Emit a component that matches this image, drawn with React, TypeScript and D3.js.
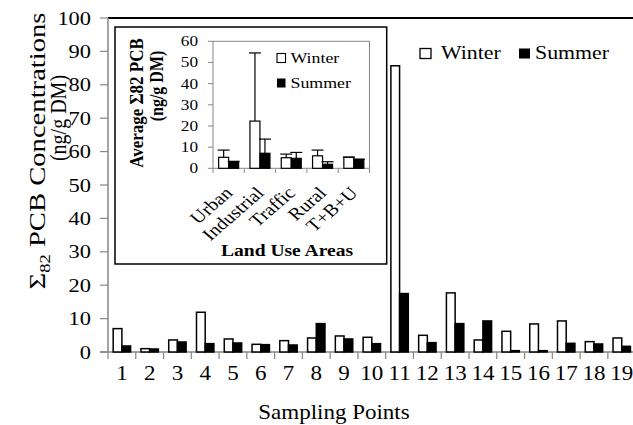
import React from "react";
import * as d3 from "d3";

// main chart: sigma82 PCB per sampling point
const points = d3.range(1, 20).map(String);
const winter = [7.0, 1.0, 3.6, 11.9, 3.9, 2.3, 3.4, 4.2, 4.8, 4.4, 85.7, 5.0, 17.7, 3.6, 6.2, 8.4, 9.3, 3.1, 4.2];
const summer = [1.8, 0.9, 3.0, 2.5, 2.7, 2.2, 2.1, 8.5, 3.9, 2.5, 17.5, 2.8, 8.5, 9.3, 0.4, 0.4, 2.6, 2.4, 1.7];
const mainTicks = d3.range(0, 101, 10);

// inset: averages by land use
const areas = ["Urban", "Industrial", "Traffic", "Rural", "T+B+U"];
const areaWinter = [5.2, 22.3, 5.0, 5.9, 5.2];
const areaSummer = [3.1, 7.1, 4.7, 1.9, 4.2];
const areaWinterSd = [3.4, 32.2, 1.7, 2.7, 0.1];
const areaSummerSd = [0.2, 6.7, 2.8, 1.2, 0.1];
const insetTicks = d3.range(0, 61, 10);

const FONT = "'Liberation Serif', 'Times New Roman', serif";
const AXIS = "#868686";
const SX = 1.15; // picture is a bit wider than tall

const T = ({ x, y, rot = 0, size, anchor = "start", bold = false, len, children }: any) => (
  <text
    transform={`translate(${x},${y}) scale(${SX},1)${rot ? ` rotate(${rot})` : ""}`}
    fontSize={size}
    textAnchor={anchor}
    fontWeight={bold ? "bold" : "normal"}
    fontFamily={FONT}
    fill="#000"
    textLength={len}
    lengthAdjust={len ? "spacingAndGlyphs" : undefined}
  >
    {children}
  </text>
);

export default function App() {
  const x = d3.scaleBand().domain(points).range([108, 108 + 19 * 27.77]);
  const y = d3.scaleLinear().domain([0, 100]).range([352, 18]);
  const bw = 8.7;

  const ix = d3.scaleBand().domain(areas).range([213, 369.5]);
  const iy = d3.scaleLinear().domain([0, 60]).range([168.3, 41.3]);
  const ibw = 10;

  return (
    <svg width={633} height={425} style={{ position: "absolute", left: 0, top: 0, background: "#fff" }}>
      {/* main axes */}
      <line x1={108} x2={633} y1={18} y2={18} stroke="#000" strokeWidth={2} />
      <line x1={108} x2={108} y1={18} y2={352} stroke={AXIS} strokeWidth={1.5} />
      <line x1={100} x2={633} y1={y(0)} y2={y(0)} stroke={AXIS} strokeWidth={1.5} />
      {mainTicks.map((t) => (
        <g key={t}>
          <line x1={100} x2={108} y1={y(t)} y2={y(t)} stroke={AXIS} strokeWidth={1.2} />
          <T x={91} y={y(t) + 6.5} size={19.5} anchor="end">{t}</T>
        </g>
      ))}
      {d3.range(0, 20).map((i) => (
        <line key={i} x1={108 + i * x.bandwidth()} x2={108 + i * x.bandwidth()} y1={352} y2={359} stroke={AXIS} strokeWidth={1.2} />
      ))}
      {points.map((p, i) => {
        const c = x(p)! + x.bandwidth() / 2;
        return (
          <g key={p}>
            <rect x={c - bw} y={y(winter[i])} width={bw} height={y(0) - y(winter[i])} fill="#fff" stroke="#000" strokeWidth={1.5} />
            <rect x={c} y={y(summer[i])} width={bw} height={y(0) - y(summer[i])} fill="#000" stroke="#000" strokeWidth={1.5} />
            <T x={c} y={379.5} size={20} anchor="middle">{p}</T>
          </g>
        );
      })}

      {/* main titles */}
      <T x={334} y={419} size={20} anchor="middle">Sampling Points</T>
      <T x={45} y={151} size={20} rot={-90} anchor="middle" len={277}>
        Σ<tspan fontSize={13} dy={4}>82</tspan><tspan dy={-4}> PCB Concentrations</tspan>
      </T>
      <T x={66} y={118} size={20} rot={-90} anchor="middle">(ng/g DM)</T>

      {/* main legend */}
      <rect x={420} y={48.5} width={11} height={10} fill="#fff" stroke="#000" strokeWidth={1.3} />
      <T x={441} y={59} size={19}>Winter</T>
      <rect x={519} y={48.5} width={11} height={10} fill="#000" />
      <T x={535} y={59} size={19}>Summer</T>

      {/* inset */}
      <rect x={115} y={27} width={271.7} height={237} fill="#fff" stroke="#000" strokeWidth={1.5} />
      <rect x={213} y={41.3} width={156.5} height={127} fill="none" stroke={AXIS} strokeWidth={1} />
      {insetTicks.map((t) => (
        <g key={t}>
          <line x1={208} x2={213} y1={iy(t)} y2={iy(t)} stroke={AXIS} strokeWidth={1} />
          <T x={198} y={iy(t) + 5} size={15} anchor="end">{t}</T>
        </g>
      ))}
      {d3.range(0, 6).map((i) => (
        <line key={i} x1={213 + i * ix.bandwidth()} x2={213 + i * ix.bandwidth()} y1={168.3} y2={173} stroke={AXIS} strokeWidth={1} />
      ))}
      {areas.map((a, i) => {
        const c = ix(a)! + ix.bandwidth() / 2;
        const wc = c - ibw / 2;
        const sc = c + ibw / 2;
        const wTop = iy(areaWinter[i] + areaWinterSd[i]);
        const sTop = iy(areaSummer[i] + areaSummerSd[i]);
        return (
          <g key={a}>
            <rect x={c - ibw} y={iy(areaWinter[i])} width={ibw} height={iy(0) - iy(areaWinter[i])} fill="#fff" stroke="#000" strokeWidth={1.2} />
            <rect x={c} y={iy(areaSummer[i])} width={ibw} height={iy(0) - iy(areaSummer[i])} fill="#000" stroke="#000" strokeWidth={1.2} />
            <g stroke="#000" strokeWidth={1.2}>
              <line x1={wc} x2={wc} y1={iy(areaWinter[i])} y2={wTop} />
              <line x1={wc - 6} x2={wc + 6} y1={wTop} y2={wTop} />
              <line x1={sc} x2={sc} y1={iy(areaSummer[i])} y2={sTop} />
              <line x1={sc - 6} x2={sc + 6} y1={sTop} y2={sTop} />
            </g>
            <T x={c + 5} y={194} size={17.5} rot={-45} anchor="end">{a}</T>
          </g>
        );
      })}
      <T x={287} y={256} size={17} anchor="middle" bold>Land Use Areas</T>
      <T x={143} y={103} size={17} rot={-90} anchor="middle" bold>Average Σ82 PCB</T>
      <T x={163} y={86} size={16} rot={-90} anchor="middle" bold>(ng/g DM)</T>

      {/* inset legend */}
      <rect x={277} y={53.5} width={8.5} height={9} fill="#fff" stroke="#000" strokeWidth={1.1} />
      <T x={290.5} y={63} size={15.5}>Winter</T>
      <rect x={277} y={78.5} width={8.5} height={9} fill="#000" />
      <T x={290.5} y={88} size={15.5}>Summer</T>
    </svg>
  );
}
